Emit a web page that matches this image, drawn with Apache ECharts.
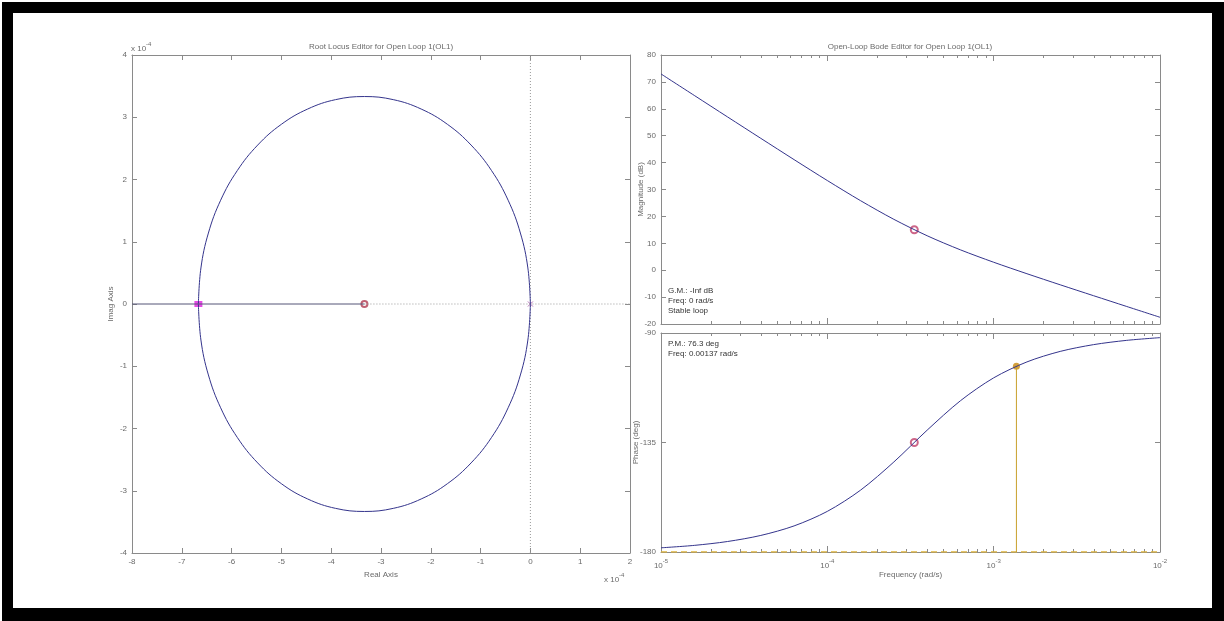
<!DOCTYPE html>
<html>
<head>
<meta charset="utf-8">
<script src="https://cdn.jsdelivr.net/npm/echarts@6/dist/echarts.min.js"></script>
<style>
html,body{margin:0;padding:0;background:#fff;}
#c{width:1224px;height:621px;}
</style>
</head>
<body>
<div id="c"></div>
<script>
// ---- Root locus data (units of 1e-4) ----
const locusRe      = [0, -0.051, -0.201, -0.447, -0.780, -1.191, -1.667, -2.193, -2.754, -3.333, -3.912, -4.473, -5.000, -5.476, -5.886, -6.220, -6.466, -6.616, -6.667];
const locusImUpper = [0, 0.579, 1.140, 1.667, 2.143, 2.553, 2.887, 3.132, 3.283, 3.333, 3.283, 3.132, 2.887, 2.553, 2.143, 1.667, 1.140, 0.579, 0];
const locusImLower = [0, -0.579, -1.140, -1.667, -2.143, -2.553, -2.887, -3.132, -3.283, -3.333, -3.283, -3.132, -2.887, -2.553, -2.143, -1.667, -1.140, -0.579, 0];
const realBranchRe = [-8, -3.333];
const zeroRe = -3.333;
const poleRe = 0;
const closedLoopPoleRe = -6.667;

// ---- Bode data ----
const freqs    = [1e-5, 1.585e-5, 2.512e-5, 3.981e-5, 6.310e-5, 1e-4, 1.585e-4, 2.512e-4, 3.981e-4, 6.310e-4, 1e-3, 1.585e-3, 2.512e-3, 3.981e-3, 6.310e-3, 1e-2];
const magDb    = [72.96, 64.97, 56.98, 49.02, 41.11, 33.33, 25.84, 18.91, 12.81, 7.57, 2.96, -1.31, -5.43, -9.47, -13.49, -17.50];
const phaseDeg = [-178.28, -177.28, -175.69, -173.19, -169.28, -163.30, -154.57, -143.00, -129.94, -117.85, -108.43, -101.88, -97.56, -94.79, -93.02, -91.91];
const compFreq = 3.333e-4, compMag = 15.05, compPhase = -135;
const pmFreq = 1.37e-3, pmPhase = -103.7;
const minorFreqTicks = [2e-5,3e-5,4e-5,5e-5,6e-5,7e-5,8e-5,9e-5,2e-4,3e-4,4e-4,5e-4,6e-4,7e-4,8e-4,9e-4,2e-3,3e-3,4e-3,5e-3,6e-3,7e-3,8e-3,9e-3];

const AX = '#8a8a8a', TX = '#6a6a6a', LC = '#34348c';
const FONT = '"Liberation Sans", Arial, sans-serif';

function xy(a, b) { return a.map((v, i) => [v, b[i]]); }

const tickBase = {show: true, inside: true, lineStyle: {color: AX}};
function vAxis(grid, pos, min, max, interval, labels, extra) {
  return Object.assign({
    type: 'value', gridIndex: grid, position: pos, min: min, max: max, interval: interval,
    axisLine: {show: true, onZero: false, lineStyle: {color: AX, width: 1}},
    axisTick: Object.assign({}, tickBase, {length: 5}),
    axisLabel: {show: labels, color: TX, fontSize: 8, fontFamily: FONT, margin: 5},
    splitLine: {show: false}
  }, extra || {});
}
function logAxis(grid, pos, labels, minor, extra) {
  const a = {
    type: 'log', logBase: 10, gridIndex: grid, position: pos, min: 1e-5, max: 1e-2,
    axisLine: {show: !minor, onZero: false, lineStyle: {color: AX, width: 1}},
    axisTick: Object.assign({}, tickBase, {length: minor ? 3 : 6}),
    axisLabel: {show: labels, color: TX, fontSize: 8, fontFamily: FONT, margin: 6,
      formatter: v => '{b|10}{s|' + Math.round(Math.log10(v)) + '}',
      rich: {b: {fontSize: 8, color: TX, fontFamily: FONT, lineHeight: 12, verticalAlign: 'bottom'},
             s: {fontSize: 6, color: TX, fontFamily: FONT, lineHeight: 12, verticalAlign: 'top'}}},
    splitLine: {show: false}, minorTick: {show: false}
  };
  if (minor) { a.axisTick.customValues = minorFreqTicks; a.axisLabel.show = false; }
  return Object.assign(a, extra || {});
}
const nameStyle = {color: TX, fontSize: 8, fontFamily: FONT};

const chart = echarts.init(document.getElementById('c'), null, {renderer: 'canvas'});
const option = {
  animation: false,
  backgroundColor: '#fff',
  grid: [
    {left: 132, top: 55, width: 498, height: 498},
    {left: 661, top: 55, width: 499, height: 269},
    {left: 661, top: 333, width: 499, height: 219}
  ],
  xAxis: [
    vAxis(0, 'bottom', -8, 2, 1, true, {name: 'Real Axis', nameLocation: 'middle', nameGap: 18, nameTextStyle: nameStyle}),
    vAxis(0, 'top', -8, 2, 1, false),
    logAxis(1, 'bottom', false, false),
    logAxis(1, 'top', false, false),
    logAxis(1, 'bottom', false, true),
    logAxis(1, 'top', false, true),
    logAxis(2, 'bottom', true, false, {name: 'Frequency (rad/s)', nameLocation: 'middle', nameGap: 19, nameTextStyle: nameStyle}),
    logAxis(2, 'top', false, false),
    logAxis(2, 'bottom', false, true),
    logAxis(2, 'top', false, true)
  ],
  yAxis: [
    vAxis(0, 'left', -4, 4, 1, true, {name: 'Imag Axis', nameLocation: 'middle', nameGap: 17, nameMoveOverlap: false, nameTextStyle: nameStyle}),
    vAxis(0, 'right', -4, 4, 1, false),
    vAxis(1, 'left', -20, 80, 10, true, {name: 'Magnitude (dB)', nameLocation: 'middle', nameGap: 16, nameMoveOverlap: false, nameTextStyle: nameStyle}),
    vAxis(1, 'right', -20, 80, 10, false),
    vAxis(2, 'left', -180, -90, 45, true, {name: 'Phase (deg)', nameLocation: 'middle', nameGap: 21, nameMoveOverlap: false, nameTextStyle: nameStyle}),
    vAxis(2, 'right', -180, -90, 45, false)
  ],
  series: [
    // root locus
    {type: 'line', xAxisIndex: 0, yAxisIndex: 0, data: [[zeroRe, 0], [2, 0]], symbol: 'none',
     lineStyle: {color: '#9a9a9a', width: 1, type: [1, 2]}},
    {type: 'line', xAxisIndex: 0, yAxisIndex: 0, data: [[0, -4], [0, 4]], symbol: 'none',
     lineStyle: {color: '#9a9a9a', width: 1, type: [1, 2]}},
    {type: 'line', xAxisIndex: 0, yAxisIndex: 0, data: xy(locusRe, locusImUpper), symbol: 'none', smooth: 0.4,
     lineStyle: {color: LC, width: 1}},
    {type: 'line', xAxisIndex: 0, yAxisIndex: 0, data: xy(locusRe, locusImLower), symbol: 'none', smooth: 0.4,
     lineStyle: {color: LC, width: 1}},
    {type: 'line', xAxisIndex: 0, yAxisIndex: 0, data: realBranchRe.map(v => [v, 0]), symbol: 'none',
     lineStyle: {color: '#555577', width: 1}},
    {type: 'scatter', xAxisIndex: 0, yAxisIndex: 0, data: [[zeroRe, 0]], symbol: 'emptyCircle', symbolSize: 6,
     itemStyle: {color: '#b03a50', borderWidth: 1}},
    {type: 'scatter', xAxisIndex: 0, yAxisIndex: 0, data: [[poleRe, 0]], symbol: 'path://M0,0L10,10M10,0L0,10', symbolSize: 5,
     itemStyle: {color: 'none', borderColor: '#a04aa0', borderWidth: 1}},
    {type: 'scatter', xAxisIndex: 0, yAxisIndex: 0, data: [[closedLoopPoleRe, 0]], symbol: 'rect', symbolSize: [8, 6],
     itemStyle: {color: '#e01ee0'}},
    // bode magnitude
    {type: 'line', xAxisIndex: 2, yAxisIndex: 2, data: xy(freqs, magDb), symbol: 'none', smooth: 0.3,
     lineStyle: {color: LC, width: 1}},
    {type: 'scatter', xAxisIndex: 2, yAxisIndex: 2, data: [[compFreq, compMag]], symbol: 'emptyCircle', symbolSize: 7,
     itemStyle: {color: '#c0406a', borderWidth: 1}},
    // bode phase
    {type: 'line', xAxisIndex: 6, yAxisIndex: 4, data: [[1e-5, -180], [1e-2, -180]], symbol: 'none', z: 3,
     lineStyle: {color: '#dcb23c', width: 1.3, type: [6, 4]}},
    {type: 'line', xAxisIndex: 6, yAxisIndex: 4, data: [[pmFreq, -180], [pmFreq, pmPhase]], symbol: 'none',
     lineStyle: {color: '#c9a02a', width: 1}},
    {type: 'line', xAxisIndex: 6, yAxisIndex: 4, data: xy(freqs, phaseDeg), symbol: 'none', smooth: 0.3,
     lineStyle: {color: LC, width: 1}},
    {type: 'scatter', xAxisIndex: 6, yAxisIndex: 4, data: [[compFreq, compPhase]], symbol: 'emptyCircle', symbolSize: 7,
     itemStyle: {color: '#c0406a', borderWidth: 1}},
    {type: 'scatter', xAxisIndex: 6, yAxisIndex: 4, data: [[pmFreq, pmPhase]], symbol: 'circle', symbolSize: 7,
     itemStyle: {color: '#c8880c'}}
  ],
  graphic: [
    // frame
    {type: 'rect', shape: {x: 2, y: 2, width: 1222, height: 11}, style: {fill: '#000'}, z: 100},
    {type: 'rect', shape: {x: 2, y: 2, width: 11, height: 619}, style: {fill: '#000'}, z: 100},
    {type: 'rect', shape: {x: 1212, y: 2, width: 12, height: 619}, style: {fill: '#000'}, z: 100},
    {type: 'rect', shape: {x: 2, y: 608, width: 1222, height: 13}, style: {fill: '#000'}, z: 100},
    // titles
    {type: 'text', x: 381, y: 47, style: {text: 'Root Locus Editor for Open Loop 1(OL1)', fill: TX, font: '8px ' + FONT, align: 'center', verticalAlign: 'middle'}},
    {type: 'text', x: 910, y: 47, style: {text: 'Open-Loop Bode Editor for Open Loop 1(OL1)', fill: TX, font: '8px ' + FONT, align: 'center', verticalAlign: 'middle'}},
    // exponent labels
    {type: 'text', x: 131, y: 47, style: {text: '{b|x 10}{s|-4}', fill: TX, verticalAlign: 'middle',
      rich: {b: {font: '8px ' + FONT, fill: TX, lineHeight: 12, verticalAlign: 'bottom'}, s: {font: '6px ' + FONT, fill: TX, lineHeight: 12, verticalAlign: 'top'}}}},
    {type: 'text', x: 604, y: 578, style: {text: '{b|x 10}{s|-4}', fill: TX, verticalAlign: 'middle',
      rich: {b: {font: '8px ' + FONT, fill: TX, lineHeight: 12, verticalAlign: 'bottom'}, s: {font: '6px ' + FONT, fill: TX, lineHeight: 12, verticalAlign: 'top'}}}},
    // annotations
    {type: 'text', x: 668, y: 286, style: {text: 'G.M.: -Inf dB\nFreq: 0 rad/s\nStable loop', fill: '#333', font: '8px ' + FONT, lineHeight: 10}},
    {type: 'text', x: 668, y: 339, style: {text: 'P.M.: 76.3 deg\nFreq: 0.00137 rad/s', fill: '#333', font: '8px ' + FONT, lineHeight: 10}}
  ]
};
chart.setOption(option);
</script>
</body>
</html>
